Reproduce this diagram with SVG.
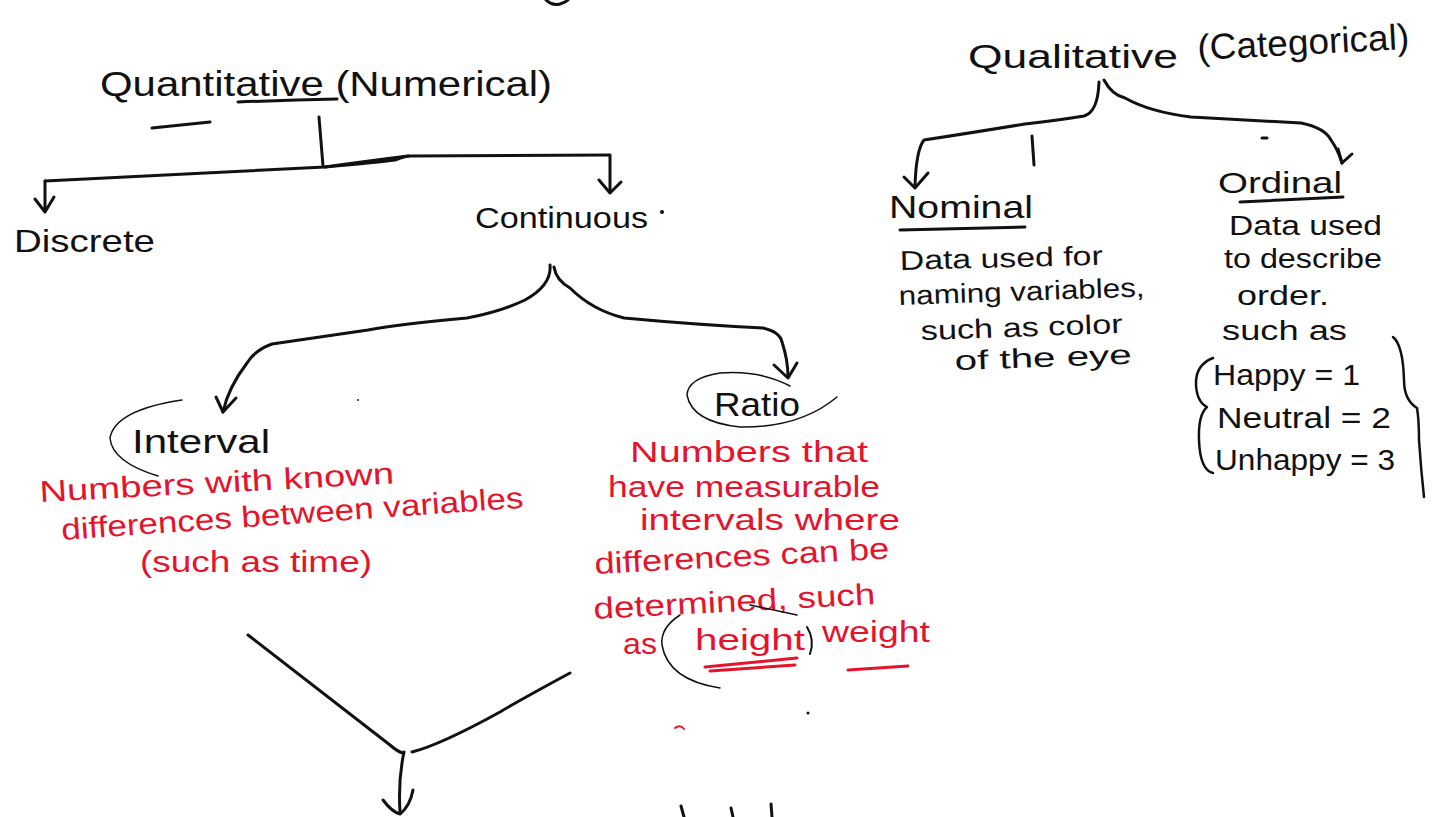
<svg xmlns="http://www.w3.org/2000/svg" width="1433" height="817" viewBox="0 0 1433 817">
<defs>
<style>
.ink{fill:none;stroke:#111;stroke-width:3;stroke-linecap:round;stroke-linejoin:round}
.thin{fill:none;stroke:#111;stroke-width:1.5;stroke-linecap:round}
.rink{fill:none;stroke:#e5142c;stroke-width:3;stroke-linecap:round}
.t{font-family:"Liberation Sans","DejaVu Sans",sans-serif;fill:#111}
.r{font-family:"Liberation Sans","DejaVu Sans",sans-serif;fill:#e5142c}
</style>
</defs>
<rect width="1433" height="817" fill="#fff"/>

<g id="connectors">
<!-- top fragment -->
<path class="ink" d="M546,0 Q552,6 560,4 Q566,2 568,0"/>
<!-- Quantitative split -->
<path class="ink" d="M319,117 L323,166"/>
<path class="ink" d="M45,181 L325,167 Q380,162 395,160 Q405,156 410,156 L610,155"/>
<path class="ink" d="M325,167 Q360,162 408,156"/>
<path class="ink" d="M45,181 L45,211"/>
<path class="ink" d="M35,199 L45,212 L54,197"/>
<path class="ink" d="M610,156 L610,192"/>
<path class="ink" d="M599,180 L610,193 L621,182"/>
<!-- Continuous split -->
<path class="ink" d="M550,265 Q552,285 525,300 Q500,312 467,318 Q400,324 368,330 L272,344 Q255,350 247,363 Q228,388 223,412"/>
<path class="ink" d="M216,397 L223,412 L236,398"/>
<path class="ink" d="M554,267 Q556,280 570,288 Q592,310 624,318 Q700,325 763,328 Q780,332 782,342 Q788,360 788,377"/>
<path class="ink" d="M774,365 L788,378 L797,363"/>
<!-- Qualitative split -->
<path class="ink" d="M1099,82 Q1098,112 1084,116 Q1060,120 1025,124 Q970,133 924,140 Q916,150 915,187"/>
<path class="ink" d="M904,177 L915,188 L928,173"/>
<path class="ink" d="M1104,80 Q1112,95 1125,98 Q1150,112 1191,117 Q1260,121 1301,123 Q1325,128 1331,140 Q1338,150 1342,163"/>
<path class="ink" d="M1338,149 L1342,163 L1352,154"/>
<path class="ink" d="M1032,136 L1034,165"/>
<path class="ink" d="M1262,138 L1267,138"/>
<!-- bottom V and arrow -->
<path class="ink" d="M248,635 L390,745 Q398,752 403,753"/>
<path class="ink" d="M570,673 Q520,700 500,712 Q440,745 412,752"/>
<path class="ink" d="M404,752 Q398,780 400,812"/>
<path class="ink" d="M383,800 Q392,812 400,814 Q410,806 413,790"/>
</g>

<g id="quantitative">
<text class="t" x="100" y="96" font-size="35" textLength="452" lengthAdjust="spacingAndGlyphs">Quantitative (Numerical)</text>
<path class="ink" d="M238,102 Q290,100 337,99"/>
<path class="ink" d="M152,128 L210,122"/>
</g>

<g id="discrete">
<text class="t" x="14" y="252" font-size="32" textLength="141" lengthAdjust="spacingAndGlyphs">Discrete</text>
</g>

<g id="continuous">
<text class="t" x="475" y="228" font-size="30" textLength="173" lengthAdjust="spacingAndGlyphs">Continuous</text>
<circle cx="662" cy="212" r="2" fill="#111"/>
</g>

<g id="interval">
<path class="thin" d="M182,400 Q115,410 110,438 Q112,462 158,476"/>
<text class="t" x="132" y="453" font-size="33" textLength="138" lengthAdjust="spacingAndGlyphs">Interval</text>
<text class="r" x="40" y="502" font-size="30" textLength="355" lengthAdjust="spacingAndGlyphs" transform="rotate(-3 40 502)">Numbers with known</text>
<text class="r" x="62" y="540" font-size="30" textLength="463" lengthAdjust="spacingAndGlyphs" transform="rotate(-4 62 540)">differences between variables</text>
<text class="r" x="140" y="572" font-size="30" textLength="232" lengthAdjust="spacingAndGlyphs">(such as time)</text>
</g>

<g id="ratio">
<path class="thin" d="M790,386 Q760,370 720,373 Q688,378 687,395 Q692,422 740,427 Q800,428 837,397"/>
<text class="t" x="714" y="416" font-size="34" textLength="86" lengthAdjust="spacingAndGlyphs">Ratio</text>
<text class="r" x="630" y="462" font-size="30" textLength="238" lengthAdjust="spacingAndGlyphs">Numbers that</text>
<text class="r" x="608" y="497" font-size="30" textLength="272" lengthAdjust="spacingAndGlyphs">have measurable</text>
<text class="r" x="640" y="530" font-size="30" textLength="260" lengthAdjust="spacingAndGlyphs">intervals where</text>
<text class="r" x="595" y="574" font-size="30" textLength="295" lengthAdjust="spacingAndGlyphs" transform="rotate(-3 595 574)">differences can be</text>
<text class="r" x="594" y="619" font-size="30" textLength="282" lengthAdjust="spacingAndGlyphs" transform="rotate(-3 594 619)">determined, such</text>
<text class="r" x="623" y="654" font-size="30" textLength="34" lengthAdjust="spacingAndGlyphs">as</text>
<text class="r" x="695" y="650" font-size="30" textLength="110" lengthAdjust="spacingAndGlyphs">height</text>
<text class="r" x="822" y="642" font-size="30" textLength="108" lengthAdjust="spacingAndGlyphs">weight</text>
<path class="thin" d="M680,615 Q660,628 662,645 Q668,680 720,688"/>
<path class="thin" d="M750,605 L797,615"/>
<path class="ink" d="M807,627 Q815,640 810,654" style="stroke-width:2"/>
<path class="rink" d="M705,667 L797,658"/>
<path class="rink" d="M710,671 L795,665"/>
<path class="rink" d="M848,670 L908,666"/>
<path class="rink" d="M675,728 Q680,724 684,729" style="stroke-width:2"/>
<circle cx="808" cy="713" r="1.5" fill="#111"/>
<circle cx="358" cy="400" r="1" fill="#111"/>
</g>

<g id="qualitative">
<text class="t" x="968" y="68" font-size="34" textLength="210" lengthAdjust="spacingAndGlyphs">Qualitative</text>
<text class="t" x="1198" y="60" font-size="36" textLength="212" lengthAdjust="spacingAndGlyphs" transform="rotate(-3 1198 60)">(Categorical)</text>
</g>

<g id="nominal">
<text class="t" x="889" y="218" font-size="32" textLength="144" lengthAdjust="spacingAndGlyphs">Nominal</text>
<path class="ink" d="M900,230 L1025,227"/>
<text class="t" x="900" y="270" font-size="27" textLength="203" lengthAdjust="spacingAndGlyphs" transform="rotate(-1.5 900 270)">Data used for</text>
<text class="t" x="899" y="305" font-size="27" textLength="246" lengthAdjust="spacingAndGlyphs" transform="rotate(-2 899 305)">naming variables,</text>
<text class="t" x="921" y="340" font-size="27" textLength="202" lengthAdjust="spacingAndGlyphs" transform="rotate(-2 921 340)">such as color</text>
<text class="t" x="955" y="370" font-size="27" textLength="177" lengthAdjust="spacingAndGlyphs" transform="rotate(-2 955 370)">of the eye</text>
</g>

<g id="ordinal">
<text class="t" x="1218" y="193" font-size="30" textLength="124" lengthAdjust="spacingAndGlyphs">Ordinal</text>
<path class="ink" d="M1240,202 L1343,197"/>
<text class="t" x="1229" y="235" font-size="27" textLength="153" lengthAdjust="spacingAndGlyphs">Data used</text>
<text class="t" x="1224" y="268" font-size="27" textLength="158" lengthAdjust="spacingAndGlyphs">to describe</text>
<text class="t" x="1237" y="305" font-size="27" textLength="92" lengthAdjust="spacingAndGlyphs">order.</text>
<text class="t" x="1222" y="340" font-size="27" textLength="125" lengthAdjust="spacingAndGlyphs">such as</text>
<text class="t" x="1213" y="385" font-size="29" textLength="147" lengthAdjust="spacingAndGlyphs">Happy = 1</text>
<text class="t" x="1217" y="428" font-size="29" textLength="174" lengthAdjust="spacingAndGlyphs">Neutral = 2</text>
<text class="t" x="1215" y="470" font-size="29" textLength="180" lengthAdjust="spacingAndGlyphs">Unhappy = 3</text>
<path class="ink" d="M1213,358 Q1195,365 1196,385 Q1197,402 1207,407 Q1198,415 1199,440 Q1200,470 1213,473" style="stroke-width:2.5"/>
<path class="ink" d="M1393,337 Q1403,345 1404,380 Q1404,400 1417,408 Q1419,420 1419,440 Q1421,470 1424,497" style="stroke-width:2.5"/>
</g>

<g id="bottom-fragments">
<path class="ink" d="M681,806 L684,817"/>
<path class="ink" d="M731,808 L733,817"/>
<path class="ink" d="M771,804 L772,817"/>
</g>
</svg>
